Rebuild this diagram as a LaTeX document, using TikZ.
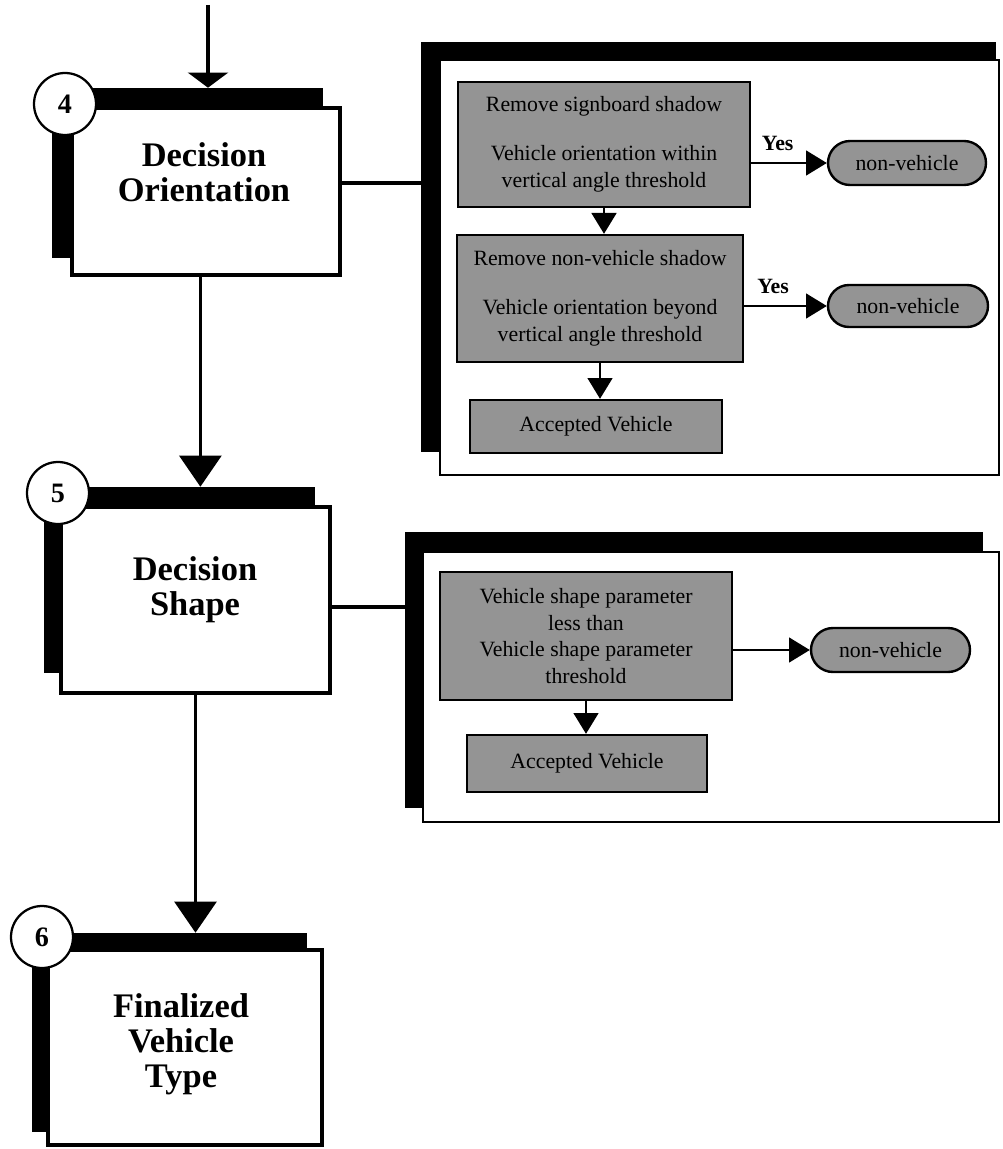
\documentclass[tikz,border=0pt]{standalone}
\usepackage{fontspec}
\setmainfont{Liberation Serif}
\usetikzlibrary{arrows.meta, shapes.misc}

\newcommand{\pxu}{0.025cm}

\tikzset{
  dims/.style 2 args={minimum width=#1*\pxu, minimum height=#2*\pxu},
  mainbox/.style={draw, fill=white, line width=2.6pt, inner sep=0pt},
  backbar/.style={fill=black, draw=none, inner sep=0pt},
  stepnum/.style={circle, draw, fill=white, line width=1.6pt, minimum size=62*\pxu, inner sep=0pt, font=\bfseries\fontsize{20}{20}\selectfont},
  steptext/.style={align=center, font=\bfseries\fontsize{24.5}{25}\selectfont},
  panel/.style={draw, fill=white, line width=1.8pt, inner sep=0pt},
  testbox/.style={draw, fill=black!42, line width=1.7pt, inner sep=0pt, align=center, font=\fontsize{15.5}{19}\selectfont},
  reject/.style={rounded rectangle, draw, fill=black!42, line width=1.7pt, inner sep=0pt, font=\fontsize{15.5}{19}\selectfont},
  link/.style={line width=2.4pt},
  entryflow/.style={line width=2.4pt, -{Triangle[width=1cm,length=0.38cm]}},
  bigflow/.style={line width=2.4pt, -{Triangle[width=1.05cm,length=0.78cm]}},
  flow/.style={line width=1.6pt, -{Triangle[width=0.62cm,length=0.52cm]}},
  yes/.style={font=\bfseries\fontsize{15.5}{16}\selectfont, inner sep=2pt, above=6pt}
}

\begin{document}
\begin{tikzpicture}[x=\pxu, y=-\pxu]
  \useasboundingbox (0,0) rectangle (1002,1149);

  \node[backbar, dims={271}{170}] (sh4) at (187.5,173) {};
  \node[mainbox, dims={268}{167}] (b4) at (206,191.5) {};
  \node[steptext] (t4) at (204,172) {Decision\\Orientation};
  \node[stepnum] (n4) at (65,104) {4};

  \node[backbar, dims={271}{186}] (sh5) at (179.5,580) {};
  \node[mainbox, dims={269}{186}] (b5) at (195.5,600) {};
  \node[steptext] (t5) at (195,590) {Decision\\Shape};
  \node[stepnum] (n5) at (58,493) {5};

  \node[backbar, dims={275}{199}] (sh6) at (169.5,1032.5) {};
  \node[mainbox, dims={274}{195}] (b6) at (185,1047.5) {};
  \node[steptext] (t6) at (181,1044) {Finalized\\Vehicle\\Type};
  \node[stepnum] (n6) at (42,937) {6};

  \coordinate (entry) at (208,5);
  \draw[entryflow] (entry) -- (entry |- sh4.north);
  \draw[bigflow] ([xshift=-4pt]b4.south) -- ([xshift=-4pt]b4.south |- sh5.north);
  \draw[bigflow] (b5.south) -- (b5.south |- sh6.north);

  \node[backbar, dims={575}{410}] (sh1) at (708.5,247) {};
  \node[panel, dims={559}{415}] (pan1) at (719.5,267.5) {};
  \node[testbox, dims={292}{125}] (r1) at (604,144.5)
    {Remove signboard shadow\\[16pt]Vehicle orientation within\\vertical angle threshold};
  \node[testbox, dims={286}{127}] (r2) at (600,298.5)
    {Remove non-vehicle shadow\\[16pt]Vehicle orientation beyond\\vertical angle threshold};
  \node[testbox, dims={252}{53}] (ok1) at (596,426.5) {Accepted Vehicle};
  \node[reject, dims={158}{44}] (nv1) at (907,163) {non-vehicle};
  \node[reject, dims={160}{42}] (nv2) at (908,306) {non-vehicle};

  \node[backbar, dims={578}{276}] (sh2) at (694,670) {};
  \node[panel, dims={576}{270}] (pan2) at (711,687) {};
  \node[testbox, dims={292}{128}] (r3) at (586,636)
    {Vehicle shape parameter\\less than\\Vehicle shape parameter\\threshold};
  \node[testbox, dims={240}{57}] (ok2) at (587,763.5) {Accepted Vehicle};
  \node[reject, dims={159}{44}] (nv3) at (890.5,650) {non-vehicle};

  \draw[link] ([yshift=6pt]b4.east) -- ([yshift=6pt]b4.east -| sh1.west);
  \draw[link] ([yshift=-5pt]b5.east) -- ([yshift=-5pt]b5.east -| sh2.west);

  \draw[flow] (r1.east |- nv1) -- node[yes, pos=.35] {Yes} (nv1.west);
  \draw[flow] (r1.south) -- (r1.south |- r2.north);
  \draw[flow] (r2.east |- nv2) -- node[yes, pos=.35] {Yes} (nv2.west);
  \draw[flow] (r2.south) -- (r2.south |- ok1.north);
  \draw[flow] (r3.east |- nv3) -- (nv3.west);
  \draw[flow] (r3.south) -- (r3.south |- ok2.north);
\end{tikzpicture}
\end{document}
